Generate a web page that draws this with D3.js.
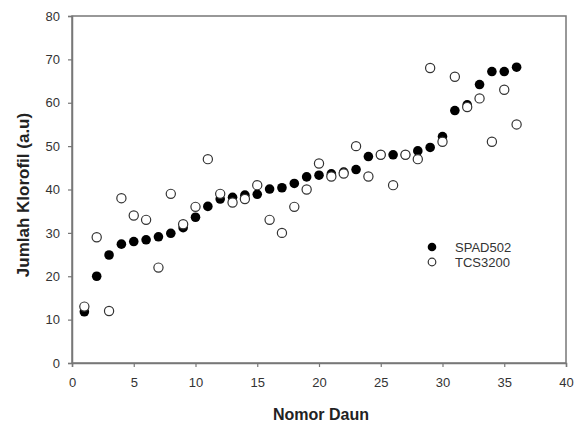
<!DOCTYPE html>
<html>
<head>
<meta charset="utf-8">
<script src="https://cdn.jsdelivr.net/npm/d3@7"></script>
<style>
  body { margin: 0; background: #fff; }
  text { font-family: "Liberation Sans", Arial, sans-serif; }
</style>
</head>
<body>
<svg id="vis" width="579" height="423"></svg>
<script>
// leaf number 1..36
const leaves = d3.range(1, 37);

const spad502 = [11.8, 20.0, 24.9, 27.4, 28.0, 28.4, 29.1, 29.9, 31.2, 33.6,
  36.1, 37.8, 38.2, 38.7, 38.9, 40.1, 40.4, 41.4, 42.9, 43.3,
  43.6, 44.0, 44.6, 47.6, 48.0, 48.0, 48.0, 48.9, 49.7, 52.2,
  58.2, 59.5, 64.2, 67.2, 67.2, 68.2];

const tcs3200 = [13, 29, 12, 38, 34, 33, 22, 39, 32, 36,
  47, 39, 37, 37.8, 41, 33, 30, 36, 40, 46,
  43, 43.7, 50, 43, 48, 41, 48, 47, 68, 51,
  66, 59, 61, 51, 63, 55];

const xTicks = [0, 5, 10, 15, 20, 25, 30, 35, 40];
const yTicks = [0, 10, 20, 30, 40, 50, 60, 70, 80];

const svg = d3.select("svg#vis");
const margin = { left: 72, right: 13, top: 16, bottom: 60 };
const width = 579 - margin.left - margin.right;
const height = 423 - margin.top - margin.bottom;

const x = d3.scaleLinear().domain([0, 40]).range([margin.left, margin.left + width]);
const y = d3.scaleLinear().domain([0, 80]).range([margin.top + height, margin.top]);

const axisColor = "#777";

// frame
svg.append("rect")
  .attr("x", x(0))
  .attr("y", y(80))
  .attr("width", x(40) - x(0))
  .attr("height", y(0) - y(80))
  .attr("fill", "none")
  .attr("stroke", axisColor)
  .attr("stroke-width", 1.5);

const xAxis = svg.append("g")
  .attr("transform", `translate(0,${y(0)})`)
  .call(d3.axisBottom(x).tickValues(xTicks).tickSize(4).tickPadding(11));

const yAxis = svg.append("g")
  .attr("transform", `translate(${x(0)},0)`)
  .call(d3.axisLeft(y).tickValues(yTicks).tickSize(4).tickPadding(8));

[xAxis, yAxis].forEach(function(a) {
  a.select(".domain").attr("stroke", axisColor).attr("stroke-width", 1.5);
  a.selectAll(".tick line").attr("stroke", axisColor).attr("stroke-width", 1.2);
  a.selectAll(".tick text")
    .attr("fill", "#333")
    .style("font-size", "13px")
    .style("font-family", "Liberation Sans, Arial, sans-serif");
});

// axis titles
svg.append("text")
  .attr("x", 321)
  .attr("y", 420)
  .attr("text-anchor", "middle")
  .attr("fill", "#222")
  .style("font-size", "16px")
  .style("font-weight", "bold")
  .text("Nomor Daun");

svg.append("text")
  .attr("transform", "translate(29,195) rotate(-90)")
  .attr("text-anchor", "middle")
  .attr("fill", "#222")
  .style("font-size", "17px")
  .style("font-weight", "bold")
  .text("Jumlah Klorofil (a.u)");

// points: SPAD first, TCS on top
svg.append("g").selectAll("circle")
  .data(leaves)
  .enter()
  .append("circle")
  .attr("cx", d => x(d))
  .attr("cy", (d, i) => y(spad502[i]))
  .attr("r", 4.8)
  .attr("fill", "#000");

svg.append("g").selectAll("circle")
  .data(leaves)
  .enter()
  .append("circle")
  .attr("cx", d => x(d))
  .attr("cy", (d, i) => y(tcs3200[i]))
  .attr("r", 4.6)
  .attr("fill", "#fff")
  .attr("stroke", "#333")
  .attr("stroke-width", 1.2);

// legend
const legend = svg.append("g");
const series = [
  { name: "SPAD502", fill: "#000", stroke: "none" },
  { name: "TCS3200", fill: "#fff", stroke: "#333" }
];
series.forEach(function(s, i) {
  const ly = 247 + i * 15;
  legend.append("circle")
    .attr("cx", 432)
    .attr("cy", ly)
    .attr("r", s.stroke === "none" ? 4.3 : 3.8)
    .attr("fill", s.fill)
    .attr("stroke", s.stroke)
    .attr("stroke-width", 1.2);
  legend.append("text")
    .attr("x", 455)
    .attr("y", ly)
    .attr("dy", "0.36em")
    .attr("fill", "#333")
    .style("font-size", "13px")
    .text(s.name);
});
</script>
</body>
</html>
